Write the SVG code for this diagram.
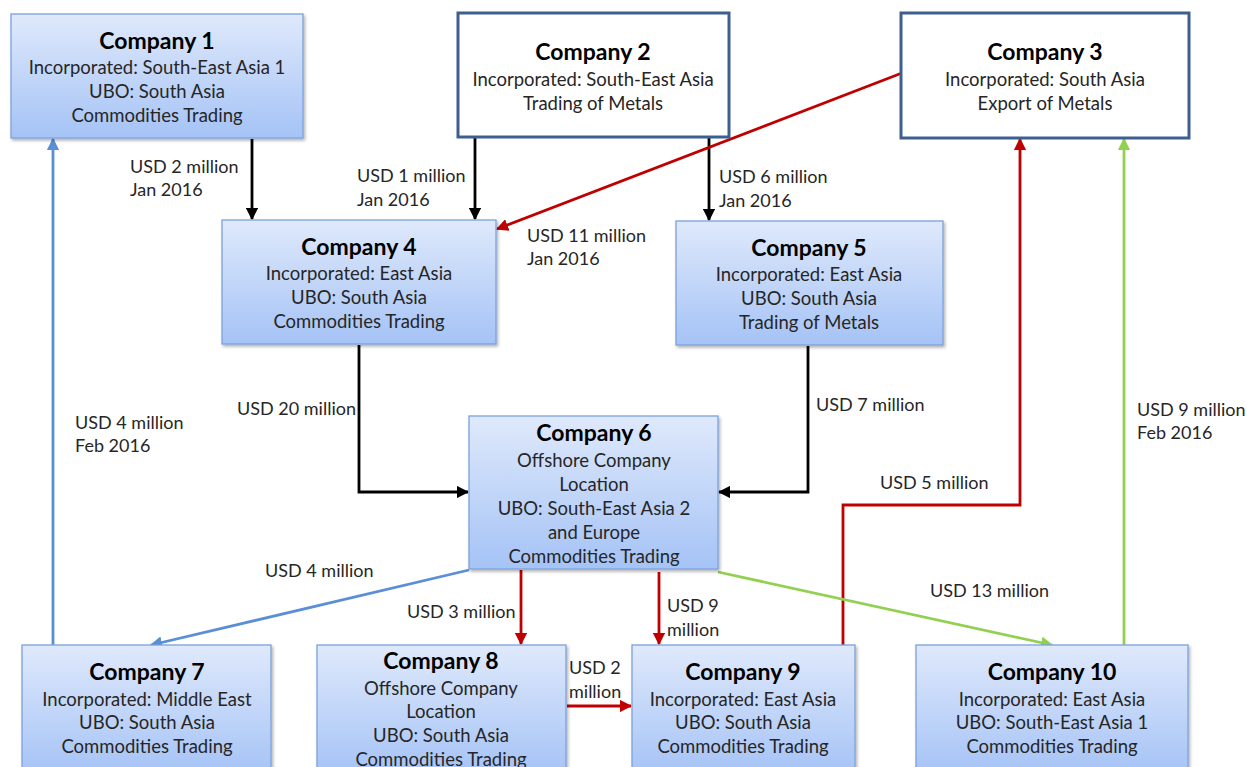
<svg xmlns="http://www.w3.org/2000/svg" width="1247" height="767" viewBox="0 0 1247 767">
  <defs>
    <linearGradient id="boxFill" x1="0" y1="0" x2="0" y2="1">
      <stop offset="0" stop-color="#dfe9fb"/>
      <stop offset="1" stop-color="#a5c3f6"/>
    </linearGradient>
    <filter id="shadow" x="-5%" y="-5%" width="115%" height="120%">
      <feDropShadow dx="1.5" dy="2" stdDeviation="1.5" flood-color="#000" flood-opacity="0.3"/>
    </filter>
    <marker id="arrBlack" viewBox="0 0 10 10" refX="9" refY="5" markerWidth="4.4" markerHeight="4.4" orient="auto" markerUnits="strokeWidth">
      <path d="M0,0 L10,5 L0,10 z" fill="#000"/>
    </marker>
    <marker id="arrRed" viewBox="0 0 10 10" refX="9" refY="5" markerWidth="4.4" markerHeight="4.4" orient="auto" markerUnits="strokeWidth">
      <path d="M0,0 L10,5 L0,10 z" fill="#c00000"/>
    </marker>
    <marker id="arrBlue" viewBox="0 0 10 10" refX="9" refY="5" markerWidth="4.4" markerHeight="4.4" orient="auto" markerUnits="strokeWidth">
      <path d="M0,0 L10,5 L0,10 z" fill="#5a8fd6"/>
    </marker>
    <marker id="arrGreen" viewBox="0 0 10 10" refX="9" refY="5" markerWidth="4.4" markerHeight="4.4" orient="auto" markerUnits="strokeWidth">
      <path d="M0,0 L10,5 L0,10 z" fill="#92d050"/>
    </marker>
  </defs>
  <style>
    text { font-family: Lato, "Open Sans", "Liberation Sans", sans-serif; fill: #262626; }
    .title { font-size: 23px; font-weight: bold; fill: #000; text-anchor: middle; }
    .body { font-size: 18.5px; text-anchor: middle; }
    .lbl { font-size: 18px; }
    .blue { fill: url(#boxFill); stroke: #7ba2dc; stroke-width: 1.3; filter: url(#shadow); }
    .plain { fill: #fff; stroke: #3d5f8f; stroke-width: 3; }
    .c { fill: none; stroke-width: 2.8; }
    .k { stroke: #000; }
    .r { stroke: #c00000; }
    .b { stroke: #5a8fd6; }
    .g { stroke: #92d050; }
  </style>

  <rect width="1247" height="767" fill="#fff"/>

  <!-- connectors -->
  <g id="connectors">
    <line class="c k" x1="252" y1="139" x2="252" y2="219" marker-end="url(#arrBlack)"/>
    <line class="c k" x1="475" y1="138" x2="475" y2="219" marker-end="url(#arrBlack)"/>
    <line class="c k" x1="709" y1="138" x2="709" y2="220" marker-end="url(#arrBlack)"/>
    <line class="c r" x1="902" y1="73" x2="497" y2="229" stroke-width="2.2" marker-end="url(#arrRed)"/>
    <polyline class="c k" points="359,345 359,492 468,492" marker-end="url(#arrBlack)"/>
    <polyline class="c k" points="808,346 808,492 719,492" marker-end="url(#arrBlack)"/>
    <line class="c b" x1="53" y1="645" x2="53" y2="139" marker-end="url(#arrBlue)"/>
    <line class="c b" x1="469" y1="570" x2="151" y2="645" marker-end="url(#arrBlue)"/>
    <line class="c r" x1="521" y1="570" x2="521" y2="644" marker-end="url(#arrRed)"/>
    <line class="c r" x1="659" y1="572" x2="659" y2="644" marker-end="url(#arrRed)"/>
    <line class="c r" x1="567" y1="706" x2="631" y2="706" stroke-width="2.2" marker-end="url(#arrRed)"/>
    <polyline class="c r" points="843,645 843,505 1020,505 1020,139" marker-end="url(#arrRed)"/>
    <line class="c g" x1="718" y1="572" x2="1052" y2="645" marker-end="url(#arrGreen)"/>
    <line class="c g" x1="1124" y1="645" x2="1124" y2="139" marker-end="url(#arrGreen)"/>
  </g>

  <!-- connector labels -->
  <g id="labels">
    <text class="lbl" x="130" y="173">USD 2 million</text>
    <text class="lbl" x="130" y="196">Jan 2016</text>
    <text class="lbl" x="357" y="182">USD 1 million</text>
    <text class="lbl" x="357" y="206">Jan 2016</text>
    <text class="lbl" x="719" y="183">USD 6 million</text>
    <text class="lbl" x="719" y="207">Jan 2016</text>
    <text class="lbl" x="527" y="242">USD 11 million</text>
    <text class="lbl" x="527" y="265">Jan 2016</text>
    <text class="lbl" x="237" y="415">USD 20 million</text>
    <text class="lbl" x="816" y="411">USD 7 million</text>
    <text class="lbl" x="75" y="429">USD 4 million</text>
    <text class="lbl" x="75" y="452">Feb 2016</text>
    <text class="lbl" x="1137" y="416">USD 9 million</text>
    <text class="lbl" x="1137" y="439">Feb 2016</text>
    <text class="lbl" x="880" y="489">USD 5 million</text>
    <text class="lbl" x="265" y="577">USD 4 million</text>
    <text class="lbl" x="930" y="597">USD 13 million</text>
    <text class="lbl" x="407" y="618">USD 3 million</text>
    <text class="lbl" x="667" y="612">USD 9</text>
    <text class="lbl" x="667" y="636">million</text>
    <text class="lbl" x="569" y="674">USD 2</text>
    <text class="lbl" x="569" y="698">million</text>
  </g>

  <g id="company1">
    <rect class="blue" x="11" y="14" width="292" height="124"/>
    <text class="title" x="157" y="49">Company 1</text>
    <text class="body" x="157" y="74">Incorporated: South-East Asia 1</text>
    <text class="body" x="157" y="98">UBO: South Asia</text>
    <text class="body" x="157" y="122">Commodities Trading</text>
  </g>

  <g id="company2">
    <rect class="plain" x="458" y="13" width="271" height="124"/>
    <text class="title" x="593" y="60">Company 2</text>
    <text class="body" x="593" y="86">Incorporated: South-East Asia</text>
    <text class="body" x="593" y="110">Trading of Metals</text>
  </g>

  <g id="company3">
    <rect class="plain" x="901" y="13" width="288" height="125"/>
    <text class="title" x="1045" y="60">Company 3</text>
    <text class="body" x="1045" y="86">Incorporated: South Asia</text>
    <text class="body" x="1045" y="110">Export of Metals</text>
  </g>

  <g id="company4">
    <rect class="blue" x="222" y="220" width="274" height="124"/>
    <text class="title" x="359" y="255">Company 4</text>
    <text class="body" x="359" y="280">Incorporated: East Asia</text>
    <text class="body" x="359" y="304">UBO: South Asia</text>
    <text class="body" x="359" y="328">Commodities Trading</text>
  </g>

  <g id="company5">
    <rect class="blue" x="676" y="221" width="267" height="124"/>
    <text class="title" x="809" y="256">Company 5</text>
    <text class="body" x="809" y="281">Incorporated: East Asia</text>
    <text class="body" x="809" y="305">UBO: South Asia</text>
    <text class="body" x="809" y="329">Trading of Metals</text>
  </g>

  <g id="company6">
    <rect class="blue" x="469" y="416" width="249" height="153"/>
    <text class="title" x="594" y="441">Company 6</text>
    <text class="body" x="594" y="467">Offshore Company</text>
    <text class="body" x="594" y="491">Location</text>
    <text class="body" x="594" y="515">UBO: South-East Asia 2</text>
    <text class="body" x="594" y="539">and Europe</text>
    <text class="body" x="594" y="563">Commodities Trading</text>
  </g>

  <g id="company7">
    <rect class="blue" x="22" y="645" width="249" height="130"/>
    <text class="title" x="147" y="680">Company 7</text>
    <text class="body" x="147" y="706">Incorporated: Middle East</text>
    <text class="body" x="147" y="729">UBO: South Asia</text>
    <text class="body" x="147" y="753">Commodities Trading</text>
  </g>

  <g id="company8">
    <rect class="blue" x="317" y="645" width="249" height="130"/>
    <text class="title" x="441" y="669">Company 8</text>
    <text class="body" x="441" y="695">Offshore Company</text>
    <text class="body" x="441" y="718">Location</text>
    <text class="body" x="441" y="742">UBO: South Asia</text>
    <text class="body" x="441" y="766">Commodities Trading</text>
  </g>

  <g id="company9">
    <rect class="blue" x="632" y="645" width="223" height="130"/>
    <text class="title" x="743" y="680">Company 9</text>
    <text class="body" x="743" y="706">Incorporated: East Asia</text>
    <text class="body" x="743" y="729">UBO: South Asia</text>
    <text class="body" x="743" y="753">Commodities Trading</text>
  </g>

  <g id="company10">
    <rect class="blue" x="916" y="645" width="272" height="130"/>
    <text class="title" x="1052" y="680">Company 10</text>
    <text class="body" x="1052" y="706">Incorporated: East Asia</text>
    <text class="body" x="1052" y="729">UBO: South-East Asia 1</text>
    <text class="body" x="1052" y="753">Commodities Trading</text>
  </g>
</svg>
